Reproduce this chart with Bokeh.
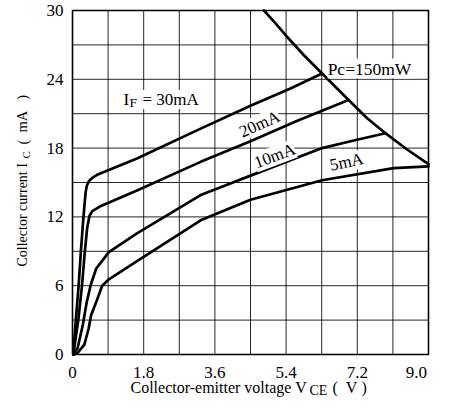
from bokeh.plotting import figure
from bokeh.models import Range1d, FixedTicker, Label
from bokeh.embed import file_html
from bokeh.resources import INLINE

# ---- data ----
V_30 = [0.02, 0.086, 0.155, 0.21, 0.27, 0.33, 0.36, 0.42, 0.5, 0.64, 1.63, 3.24, 4.5, 5.51, 6.31]
I_30 = [0.0, 3.1, 6.0, 8.9, 11.7, 14.1, 14.7, 15.15, 15.4, 15.7, 17.1, 19.7, 21.7, 23.2, 24.5]

V_20 = [0.02, 0.15, 0.24, 0.31, 0.37, 0.43, 0.5, 0.69, 1.63, 3.24, 4.5, 5.7, 6.98]
I_20 = [0.0, 3.1, 6.0, 8.9, 11.0, 12.1, 12.5, 12.9, 14.3, 16.8, 18.6, 20.4, 22.2]

V_10 = [0.02, 0.13, 0.26, 0.36, 0.46, 0.6, 0.92, 1.63, 3.24, 3.91, 4.5, 6.31, 7.03, 7.91]
I_10 = [0.0, 0.57, 2.57, 4.57, 6.06, 7.5, 8.93, 10.57, 13.9, 14.8, 15.6, 18.0, 18.6, 19.3]

V_5 = [0.02, 0.13, 0.3, 0.41, 0.47, 0.6, 0.75, 0.9, 1.7, 3.24, 4.5, 6.31, 8.12, 9.0]
I_5 = [0.0, 0.14, 0.86, 2.29, 3.43, 4.57, 6.0, 6.5, 8.3, 11.7, 13.5, 15.2, 16.25, 16.4]

PC_V = [4.84, 5.1, 5.4, 5.85, 6.31, 6.98, 7.45, 7.91, 8.45, 9.0]
PC_I = [30.0, 29.0, 27.8, 26.1, 24.5, 22.2, 20.6, 19.3, 17.9, 16.6]

X_GRID = [0, 0.9, 1.8, 2.7, 3.6, 4.5, 5.4, 6.3, 7.2, 8.1, 9.0]
X_LABELS = ["0", "", "1.8", "", "3.6", "", "5.4", "", "7.2", "", "9.0\u00a0\u00a0"]
Y_GRID = [0, 3, 6, 9, 12, 15, 18, 21, 24, 27, 30]
Y_LABELS = ["0", "", "6", "", "12", "", "18", "", "24", "", "30"]

SERIF = "Liberation Serif"
NB = "\u00a0"

# ---- layout: the frame covers the whole canvas, the chart box sits inside ----
W, H = 435, 398
BOX_L, BOX_R, BOX_T, BOX_B = 72, 428, 10, 354      # pixel box of the 0..9 x 0..30 area
x0, x1 = X_GRID[0], X_GRID[-1]
y0, y1 = Y_GRID[0], Y_GRID[-1]
sx = (BOX_R - BOX_L) / (x1 - x0)
sy = (BOX_B - BOX_T) / (y1 - y0)
xr = Range1d(x0 - BOX_L / sx, x1 + (W - BOX_R) / sx)
yr = Range1d(y0 - (H - BOX_B) / sy, y1 + BOX_T / sy)

def DX(px):
    return x0 + (px - BOX_L) / sx

def DY(py):
    return y1 - (py - BOX_T) / sy

p = figure(width=W, height=H, output_backend="svg", toolbar_location=None,
           x_range=xr, y_range=yr, min_border=0)
p.background_fill_color = "white"
p.border_fill_color = "white"
p.outline_line_color = None
p.xgrid.visible = False
p.ygrid.visible = False

for ax, ticks, labels in ((p.xaxis[0], X_GRID, X_LABELS), (p.yaxis[0], Y_GRID, Y_LABELS)):
    ax.fixed_location = 0
    ax.ticker = FixedTicker(ticks=ticks)
    ax.major_label_overrides = {t: l for t, l in zip(ticks, labels)}
    ax.major_tick_line_color = None
    ax.minor_tick_line_color = None
    ax.axis_line_color = None
    ax.major_tick_out = 0
    ax.major_tick_in = 0
    ax.major_label_text_font = SERIF
    ax.major_label_text_font_size = "17px"
    ax.major_label_text_color = "black"
p.xaxis[0].major_label_standoff = 8
p.yaxis[0].major_label_standoff = 9

# grid
p.multi_line(xs=[[g, g] for g in X_GRID], ys=[[y0, y1] for _ in X_GRID],
             line_color="black", line_alpha=0.85, line_width=1)
p.multi_line(xs=[[x0, x1] for _ in Y_GRID], ys=[[g, g] for g in Y_GRID],
             line_color="black", line_alpha=0.85, line_width=1)
p.quad(left=[x0], right=[x1], bottom=[y0], top=[y1], fill_color=None,
       line_color="black", line_width=1.6)

for vx, iy in ((V_30, I_30), (V_20, I_20), (V_10, I_10), (V_5, I_5), (PC_V, PC_I)):
    p.line(vx, iy, line_color="black", line_width=2.7, line_join="round", line_cap="round")

def lab(x, y, text, size="17px", angle=0.0, align="left", baseline="alphabetic",
        xo=0, yo=0, bg="white"):
    p.add_layout(Label(x=x, y=y, text=text, text_font=SERIF, text_font_size=size,
                       angle=angle, text_align=align, text_baseline=baseline,
                       x_offset=xo, y_offset=yo, text_color="black",
                       background_fill_color=bg))

# curve annotations
lab(1.29, 21.8, "I", yo=5)
lab(1.29, 21.8, "F", size="13.5px", xo=6, yo=2)
lab(1.29, 21.8, "= 30mA", xo=19, yo=5)
lab(4.73, 20.1, "20mA", angle=0.42, align="center", baseline="middle")
lab(5.11, 17.33, "10mA", angle=0.36, align="center", baseline="middle")
lab(6.93, 16.8, "5mA", angle=0.2, align="center", baseline="middle")
lab(6.45, 24.5, "Pc=150mW", size="17.5px", yo=5)

# axis titles
lab(DX(130), DY(387), "Collector-emitter voltage V", size="16px", bg=None)
lab(DX(309), DY(387), "CE", size="14px", yo=-3, bg=None)
lab(DX(332), DY(387), "(" + NB + NB + "V" + NB + ")", size="16px", bg=None)

lab(DX(27), DY(266), "Collector current I", size="14px", angle=1.5708, xo=-5, bg=None)
lab(DX(27), DY(266), "C", size="11px", angle=1.5708, xo=-2, yo=108, bg=None)
lab(DX(27), DY(266), "(" + NB + NB + "mA" + NB + NB + NB + ")", size="14.5px",
    angle=1.5708, xo=-5, yo=122, bg=None)

open("out.html", "w").write(file_html(p, INLINE))
